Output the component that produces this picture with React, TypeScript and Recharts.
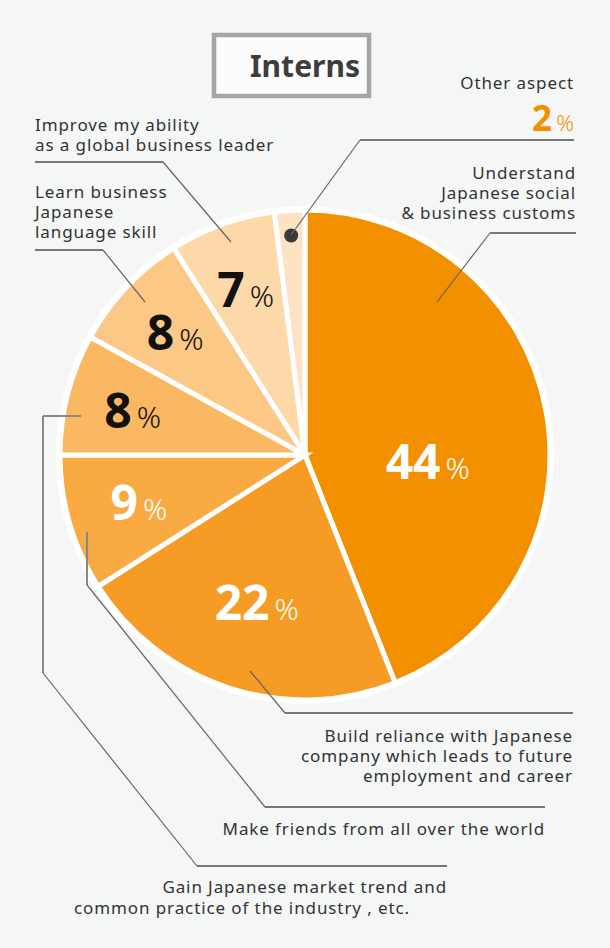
import { PieChart, Pie, Cell } from 'recharts'

const categories = [
  'Understand Japanese social & business customs',
  'Build reliance with Japanese company which leads to future employment and career',
  'Make friends from all over the world',
  'Gain Japanese market trend and common practice of the industry , etc.',
  'Learn business Japanese language skill',
  'Improve my ability as a global business leader',
  'Other aspect',
]
const shares = [44, 22, 9, 8, 8, 7, 2]

const sliceColors = ['#F39000', '#F69C24', '#F9AA42', '#FAB862', '#FCC886', '#FDD8A8', '#FDE3C4']
const labelInk = ['#fff', '#fff', '#fff', '#111', '#111', '#111']
const labelRadius = [123, 156, 173, 178, 178, 175]
const labelTurn = [-14, 0, 0, 0, 0, 0]

const CX = 305
const CY = 455
const RAD = Math.PI / 180
const FONT = '"Noto Sans", sans-serif'

const rows = categories.map((name, i) => ({ name, value: shares[i] }))

function polar(cx: number, cy: number, r: number, deg: number) {
  return { x: cx + r * Math.cos(-deg * RAD), y: cy + r * Math.sin(-deg * RAD) }
}

function SliceLabel(props: any) {
  const { index, midAngle, value } = props
  const cx = Number(props.cx ?? CX)
  const cy = Number(props.cy ?? CY)
  if (index === shares.length - 1) {
    const p = polar(cx, cy, 220, midAngle)
    return <circle cx={p.x} cy={p.y} r={7} fill="#3a3a3a" />
  }
  const p = polar(cx, cy, labelRadius[index], midAngle + labelTurn[index])
  return (
    <text x={p.x} y={p.y + 17} textAnchor="middle" fill={labelInk[index]}
      style={{ fontFamily: FONT }}>
      <tspan fontSize={48} fontWeight={700}>{value}</tspan>
      <tspan dx={5} fontSize={30} fontWeight={300}>%</tspan>
    </text>
  )
}

const txt = { fontFamily: FONT, fontSize: 17, fill: '#333', letterSpacing: 0.9 }
const lead = { fill: 'none', stroke: '#666', strokeWidth: 1.2 }

function Notes() {
  return (
    <svg width={610} height={948}
      style={{ position: 'absolute', left: 0, top: 0, pointerEvents: 'none' }}>
      {/* title */}
      <rect x={214} y={35} width={155} height={61} fill="#fbfcfb" stroke="#a5a5a5" strokeWidth={4.5} />
      <text x={305} y={77} textAnchor="middle" fontSize={30} fontWeight={700}
        fill="#3d3d3d" style={{ fontFamily: FONT }}>Interns</text>

      {/* other aspect */}
      <text x={574} y={89} textAnchor="end" {...txt}>Other aspect</text>
      <text x={574} y={131} textAnchor="end" fill="#F39000" style={{ fontFamily: FONT }}>
        <tspan fontSize={35} fontWeight={700}>{shares[6]}</tspan>
        <tspan dx={4} fontSize={22} fontWeight={300}>%</tspan>
      </text>
      <polyline points="291,235 360,140" {...lead} />
      <line x1={360} y1={140} x2={574} y2={140} stroke="#777" strokeWidth={2} />

      {/* understand */}
      <text x={576} y={179} textAnchor="end" {...txt}>Understand</text>
      <text x={576} y={199} textAnchor="end" {...txt}>Japanese social</text>
      <text x={576} y={219} textAnchor="end" {...txt}>&amp; business customs</text>
      <polyline points="437,302 490,233" {...lead} />
      <line x1={490} y1={233} x2={576} y2={233} stroke="#777" strokeWidth={2} />

      {/* improve */}
      <text x={35} y={131} {...txt}>Improve my ability</text>
      <text x={35} y={151} {...txt}>as a global business leader</text>
      <polyline points="231,242 163,162" {...lead} />
      <line x1={35} y1={162} x2={163} y2={162} stroke="#777" strokeWidth={2} />

      {/* learn */}
      <text x={35} y={198} {...txt}>Learn business</text>
      <text x={35} y={218} {...txt}>Japanese</text>
      <text x={35} y={238} {...txt}>language skill</text>
      <polyline points="145,302 103,250" {...lead} />
      <line x1={35} y1={250} x2={103} y2={250} stroke="#777" strokeWidth={2} />

      {/* gain */}
      <line x1={43} y1={416} x2={81} y2={416} stroke="#888" strokeWidth={2} />
      <line x1={43} y1={416} x2={43} y2={673} stroke="#888" strokeWidth={2} />
      <polyline points="43,673 197,866" {...lead} />
      <line x1={197} y1={866} x2={447} y2={866} stroke="#777" strokeWidth={2} />
      <text x={447} y={893} textAnchor="end" {...txt}>Gain Japanese market trend and</text>
      <text x={74} y={914} {...txt}>common practice of the industry , etc.</text>

      {/* make friends */}
      <line x1={87} y1={532} x2={87} y2={585} stroke="#888" strokeWidth={2} />
      <polyline points="87,585 265,807" {...lead} />
      <line x1={265} y1={807} x2={545} y2={807} stroke="#777" strokeWidth={2} />
      <text x={545} y={835} textAnchor="end" {...txt}>Make friends from all over the world</text>

      {/* build reliance */}
      <polyline points="250,671 285,713" {...lead} />
      <line x1={285} y1={713} x2={573} y2={713} stroke="#777" strokeWidth={2} />
      <text x={573} y={742} textAnchor="end" {...txt}>Build reliance with Japanese</text>
      <text x={573} y={762} textAnchor="end" {...txt}>company which leads to future</text>
      <text x={573} y={782} textAnchor="end" {...txt}>employment and career</text>
    </svg>
  )
}

export default function App() {
  return (
    <div style={{ position: 'absolute', left: 0, top: 0, width: 610, height: 948, background: '#F5F7F6' }}>
      <PieChart width={610} height={948} margin={{ top: 0, right: 0, bottom: 0, left: 0 }}>
        <Pie data={[{ value: 1 }]} dataKey="value" cx={CX} cy={CY}
          outerRadius={249} fill="#fff" stroke="none" isAnimationActive={false} />
        <Pie data={rows} dataKey="value" nameKey="name" cx={CX} cy={CY}
          outerRadius={245} startAngle={90} endAngle={-270}
          stroke="#fff" strokeWidth={5}
          label={SliceLabel} labelLine={false} isAnimationActive={false}>
          {rows.map((r, i) => <Cell key={r.name} fill={sliceColors[i]} />)}
        </Pie>
      </PieChart>
      <Notes />
    </div>
  )
}
